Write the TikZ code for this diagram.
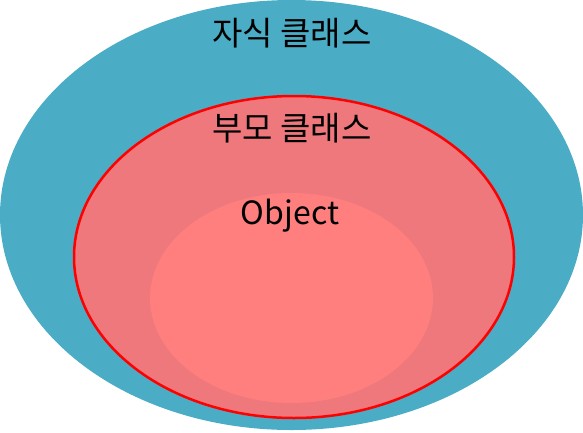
\documentclass[tikz,border=0pt]{standalone}
\usepackage{fontspec}
\setmainfont{Noto Sans CJK KR}
\usepackage{tikz}
\usetikzlibrary{shapes.geometric}
\definecolor{childteal}{HTML}{4BACC6}
\definecolor{parentpink}{HTML}{EE787C}
\definecolor{objectpink}{HTML}{FF7F7F}

\begin{document}
\begin{tikzpicture}[x=1pt,y=-1pt,
        set/.style={ellipse, inner sep=0pt, anchor=center},
        lbl/.style={font=\fontsize{33}{36}\selectfont, anchor=center}]
        \useasboundingbox (0,0) rectangle (583,432);

        \node[set, fill=childteal, minimum width=583pt, minimum height=430pt] (child) at (291.5,215) {};
        \node[set, fill=parentpink, draw=red, line width=2.5pt,
              minimum width=440pt, minimum height=322pt] (parent) at (294,257) {};
        \node[set, fill=objectpink, minimum width=283pt, minimum height=210pt] (object) at (291.5,298) {};

        \node[lbl] (childlbl) at (292,33) {자식 클래스};
        \node[lbl] (parentlbl) at (292,128) {부모 클래스};
        \node[lbl, font=\fontsize{32}{36}\selectfont] (objectlbl) at (290,216) {Object};
      \end{tikzpicture}
\end{document}
